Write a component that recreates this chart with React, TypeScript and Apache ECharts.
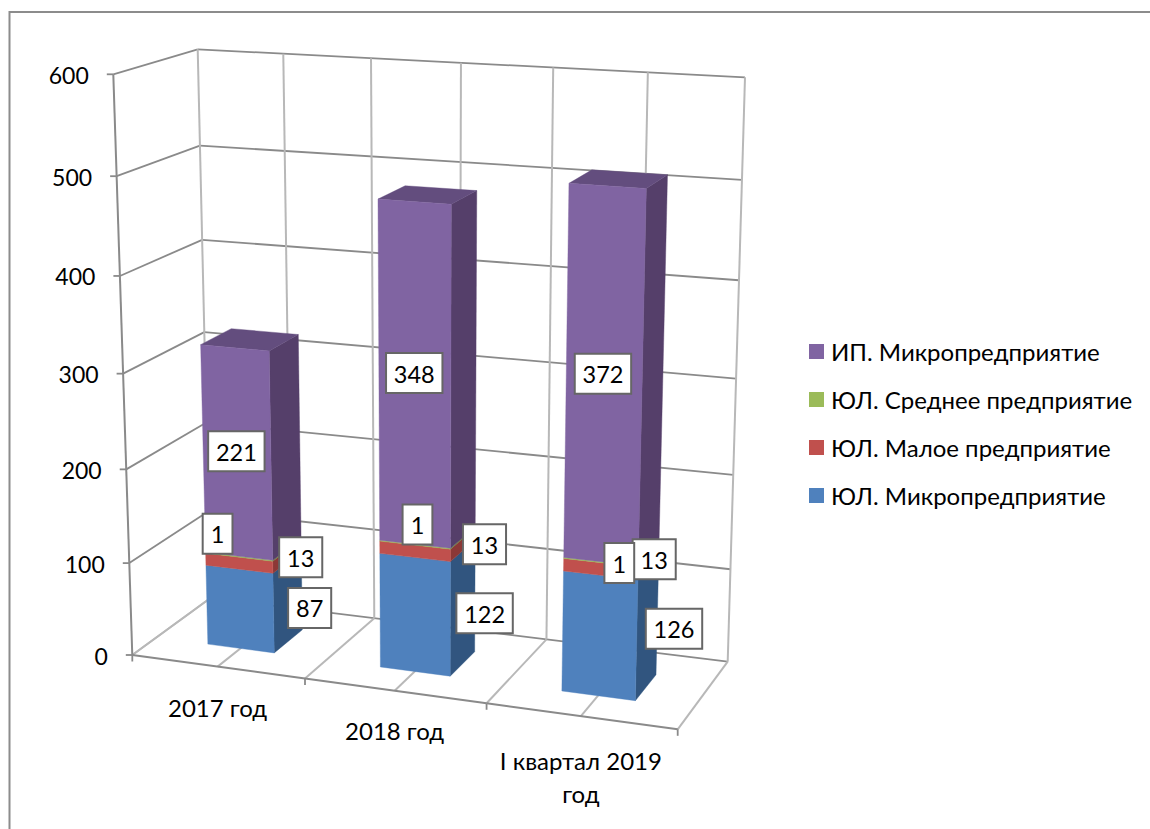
import React, { useEffect, useRef } from "react";
import * as echarts from "echarts";

const categories = ["2017 год", "2018 год", "I квартал 2019\nгод"];
const yTicks = [0, 100, 200, 300, 400, 500, 600];
const microLegal = [87, 122, 126];
const smallLegal = [13, 13, 13];
const mediumLegal = [1, 1, 1];
const microIndividual = [221, 348, 372];

const seriesNames = [
  "ЮЛ. Микропредприятие",
  "ЮЛ. Малое предприятие",
  "ЮЛ. Среднее предприятие",
  "ИП. Микропредприятие",
];
const seriesValues = [microLegal, smallLegal, mediumLegal, microIndividual];

const palette = [
  { front: "#4f81bd", side: "#31557f", top: "#3f6797" },
  { front: "#c0504d", side: "#8c3836", top: "#9a403d" },
  { front: "#9bbb59", side: "#71893f", top: "#7c9647" },
  { front: "#8064a2", side: "#553f6a", top: "#634d7e" },
];

// Label box shift from the centre of the segment's front face, as laid out in the source chart.
const labelShifts = [
  [[70, -1], [70, -1.5], [75, -7]],
  [[62, -6], [70, -7], [54, -9.6]],
  [[-21, -23], [3, -20], [19, 1]],
  [[-0.1, -1.9], [0, -2.9], [-0.6, -3.6]],
];
const catLabelShifts = [41, 40, 45];

const FONT = "Lato, 'Open Sans', sans-serif";
const DARK = "#8a8a8a";
const LIGHT = "#b8b8b8";

// Corners of the 3D plot box on the page
const FBL = [132.3, 655], FBR = [677.7, 729.3], BBL = [210.5, 598], BBR = [727.7, 661.7];
const FTL = [113.3, 74.3], FTR = [694, 107.7], BTL = [197.7, 49.3], BTR = [745, 77.3];
const BAR_FRONT = 0.31, BAR_BACK = 0.7;
const BAR_HALF = 0.1953, BAR_SHIFT = 0.0025;

const persp = (t: number, c: number) => t / (1 - c + c * t);
const mix = (a: number[], b: number[], t: number) => [a[0] + (b[0] - a[0]) * t, a[1] + (b[1] - a[1]) * t];

// u, t are 0..1 fractions of the hidden cartesian grid, w is the depth fraction
function box(u: number, t: number, w: number) {
  const uf = persp(u, -0.079);
  const tf = persp(t, -0.064);
  const bottom = mix(mix(FBL, FBR, uf), mix(BBL, BBR, uf), w);
  const top = mix(mix(FTL, FTR, uf), mix(BTL, BTR, uf), w);
  return mix(bottom, top, tf);
}

function projector(params: any, api: any) {
  const cs = params.coordSys;
  return (cat: number, value: number, du: number, w: number) => {
    const p = api.coord([cat, value]);
    const band = api.size([1, 0])[0];
    return box((p[0] + du * band - cs.x) / cs.width, (cs.y + cs.height - p[1]) / cs.height, w);
  };
}

const line = (a: number[], b: number[], stroke: string, lineWidth = 1.8) => ({
  type: "line",
  shape: { x1: a[0], y1: a[1], x2: b[0], y2: b[1] },
  style: { stroke, lineWidth },
  silent: true,
});
const poly = (points: number[][], fill: string) => ({
  type: "polygon",
  shape: { points },
  style: { fill, stroke: fill, lineWidth: 0.4 },
  silent: true,
});

export default function App() {
  const ref = useRef<HTMLDivElement>(null);
  useEffect(() => {
    const chart = echarts.init(ref.current!, undefined, { renderer: "svg" });

    const stacks = seriesNames.map((_, s) =>
      categories.map((_, c) => {
        let start = 0;
        for (let k = 0; k < s; k++) start += seriesValues[k][c];
        return [c, start, start + seriesValues[s][c]];
      })
    );

    const valueGrid = {
      type: "custom",
      coordinateSystem: "cartesian2d",
      silent: true,
      z: 1,
      data: yTicks.map((v) => [0, v]),
      encode: { x: 0, y: 1 },
      renderItem: (params: any, api: any) => {
        const project = projector(params, api);
        const v = api.value(1);
        const last = categories.length - 1;
        const front = project(0, v, -0.5, 0);
        const corner = project(0, v, -0.5, 1);
        const end = project(last, v, 0.5, 1);
        return {
          type: "group",
          children: [
            line(front, corner, v === 0 ? LIGHT : DARK),
            line(corner, end, DARK),
            line([front[0] - 6.5, front[1]], front, DARK),
            {
              type: "text",
              silent: true,
              style: {
                text: String(v),
                x: front[0] - 24.5,
                y: front[1] + 0.5,
                fill: "#000",
                fontFamily: FONT,
                fontSize: 23,
                align: "right",
                verticalAlign: "middle",
              },
            },
          ],
        };
      },
    };

    const categoryGrid = {
      type: "custom",
      coordinateSystem: "cartesian2d",
      silent: true,
      z: 1,
      data: categories.map((_, c) => [c, 0]),
      encode: { x: 0, y: 1 },
      renderItem: (params: any, api: any) => {
        const project = projector(params, api);
        const c = api.value(0);
        const children: any[] = [];
        const edges = c === 0 ? [-0.5, 0, 0.5] : [0, 0.5];
        edges.forEach((du) => {
          children.push(line(project(c, 600, du, 1), project(c, 0, du, 1), LIGHT, 2));
          children.push(line(project(c, 0, du, 0), project(c, 0, du, 1), LIGHT, 2));
          if (du !== 0) {
            const f = project(c, 0, du, 0);
            children.push(line(f, [f[0], f[1] + 6.5], DARK));
          }
        });
        const frontLeft = project(c, 0, -0.5, 0);
        const frontRight = project(c, 0, 0.5, 0);
        children.push(line(frontLeft, frontRight, DARK, 2));
        if (c === 0) children.push(line(project(c, 600, -0.5, 0), frontLeft, DARK, 2));
        const mid = project(c, 0, 0, 0);
        children.push({
          type: "text",
          silent: true,
          style: {
            text: categories[c],
            x: mid[0],
            y: mid[1] + catLabelShifts[c] - 17,
            lineHeight: 33,
            fill: "#000",
            fontFamily: FONT,
            fontSize: 24,
            align: "center",
            verticalAlign: "top",
          },
        });
        return { type: "group", children };
      },
    };

    const barSeries = seriesNames.map((name, s) => ({
      type: "custom",
      name,
      coordinateSystem: "cartesian2d",
      silent: true,
      z: 2,
      itemStyle: { color: palette[s].front },
      data: stacks[s],
      encode: { x: 0, y: [1, 2] },
      renderItem: (params: any, api: any) => {
        const project = projector(params, api);
        const c = api.value(0);
        const lo = api.value(1);
        const hi = api.value(2);
        const l = BAR_SHIFT - BAR_HALF;
        const r = BAR_SHIFT + BAR_HALF;
        const fl0 = project(c, lo, l, BAR_FRONT);
        const fr0 = project(c, lo, r, BAR_FRONT);
        const br0 = project(c, lo, r, BAR_BACK);
        const fl1 = project(c, hi, l, BAR_FRONT);
        const fr1 = project(c, hi, r, BAR_FRONT);
        const br1 = project(c, hi, r, BAR_BACK);
        const bl1 = project(c, hi, l, BAR_BACK);
        const children = [poly([fr0, br0, br1, fr1], palette[s].side)];
        if (s === seriesNames.length - 1) children.push(poly([fl1, fr1, br1, bl1], palette[s].top));
        children.push(poly([fl0, fr0, fr1, fl1], palette[s].front));
        return { type: "group", children };
      },
    }));

    const labelRows: number[][] = [];
    seriesNames.forEach((_, s) =>
      categories.forEach((_, c) => {
        const [, lo, hi] = stacks[s][c];
        labelRows.push([c, (lo + hi) / 2, seriesValues[s][c], labelShifts[s][c][0], labelShifts[s][c][1]]);
      })
    );
    const labelSeries = {
      type: "custom",
      coordinateSystem: "cartesian2d",
      silent: true,
      z: 3,
      data: labelRows,
      encode: { x: 0, y: 1 },
      renderItem: (params: any, api: any) => {
        const project = projector(params, api);
        const text = String(api.value(2));
        const anchor = project(api.value(0), api.value(1), 0, BAR_FRONT);
        const cx = anchor[0] + api.value(3);
        const cy = anchor[1] + api.value(4);
        const w = 16.5 + 13.3 * text.length;
        const h = 40;
        return {
          type: "group",
          children: [
            {
              type: "rect",
              silent: true,
              shape: { x: cx - w / 2, y: cy - h / 2, width: w, height: h },
              style: { fill: "#fff", stroke: "#666", lineWidth: 2 },
            },
            {
              type: "text",
              silent: true,
              style: {
                text,
                x: cx,
                y: cy + 0.5,
                fill: "#000",
                fontFamily: FONT,
                fontSize: 23.5,
                align: "center",
                verticalAlign: "middle",
              },
            },
          ],
        };
      },
    };

    chart.setOption({
      animation: false,
      backgroundColor: "#fff",
      grid: { left: 100, top: 50, width: 600, height: 600 },
      xAxis: { type: "category", data: categories, show: false },
      yAxis: { type: "value", min: 0, max: 600, interval: 100, show: false },
      legend: {
        data: [...seriesNames].reverse(),
        orient: "vertical",
        left: 809,
        top: 339.5,
        padding: 0,
        itemWidth: 15,
        itemHeight: 15,
        itemGap: 24,
        icon: "rect",
        selectedMode: false,
        textStyle: { fontFamily: FONT, fontSize: 24, color: "#000", padding: [0, 0, 0, 2] },
      },
      graphic: [
        {
          type: "polyline",
          silent: true,
          shape: { points: [[9.5, 829], [9.5, 12], [1150, 12]] },
          style: { stroke: "#8c8c8c", lineWidth: 2, fill: "none" },
        },
      ],
      series: [valueGrid, categoryGrid, ...barSeries, labelSeries],
    });
    return () => chart.dispose();
  }, []);
  return <div ref={ref} style={{ position: "fixed", left: 0, top: 0, width: 1150, height: 829 }} />;
}
